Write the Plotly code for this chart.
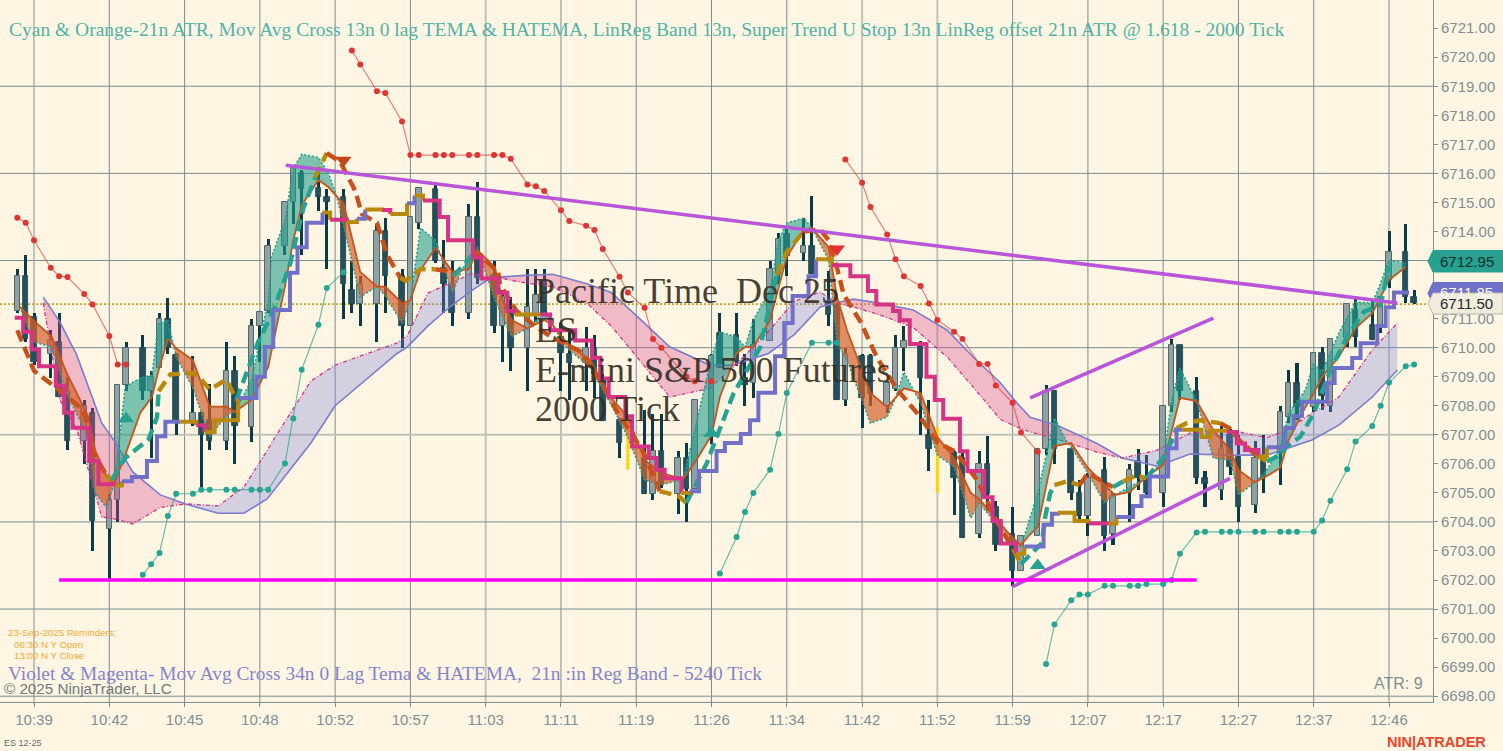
import plotly.graph_objects as go

BG = "#FEF6E3"
AXIS = "#7F8F96"
TIME_K = [2, 11, 20, 29, 38, 47, 56, 65, 74, 83, 92, 101, 110, 119, 128, 137, 146, 155, 164]
TIME_LABELS = ["10:39", "10:42", "10:45", "10:48", "10:52", "10:57", "11:03", "11:11", "11:19", "11:26",
               "11:34", "11:42", "11:52", "11:59", "12:07", "12:17", "12:27", "12:37", "12:46"]
LIGHT_K = [2, 56, 101, 110]
GRID_PRICES = [6698, 6701, 6704, 6707, 6710, 6713, 6716, 6719]

candle_k = [0, 1, 2, 4, 5, 6, 8, 9, 11, 12, 13, 15, 16, 17, 18, 19, 21, 22, 23, 25, 26, 28, 29, 30, 32, 33, 34, 36, 37, 39, 40, 41, 43, 44, 46, 47, 48, 50, 51, 52, 54, 55, 57, 58, 59, 61, 62, 63, 65, 66, 68, 69, 70, 72, 75, 76, 77, 79, 80, 81, 83, 84, 86, 87, 88, 90, 91, 92, 94, 95, 97, 98, 99, 101, 102, 104, 105, 106, 108, 109, 112, 113, 115, 116, 117, 119, 120, 122, 123, 124, 126, 127, 128, 130, 131, 133, 134, 135, 137, 138, 139, 141, 142, 144, 145, 146, 148, 149, 151, 152, 153, 155, 156, 157, 159, 160, 162, 163, 164, 166, 167]
candle_o = [6711.26, 6712.46, 6711.05, 6709.77, 6710.2, 6708.5, 6706.78, 6707.76, 6703.75, 6704.74, 6708.73, 6710, 6708.5, 6709.3, 6711, 6709.75, 6707.47, 6707.75, 6707.5, 6706.8, 6709.2, 6707.27, 6710.75, 6711.26, 6713.5, 6715, 6716, 6715.5, 6715.2, 6715.2, 6712, 6711.5, 6711.5, 6714, 6712.46, 6710.75, 6714.3, 6715.45, 6712.75, 6712.2, 6711.2, 6714.5, 6712.5, 6710.75, 6711.25, 6710, 6711.15, 6712.3, 6710.35, 6709.77, 6709.48, 6710, 6708.96, 6707.5, 6706.2, 6704.97, 6706.44, 6704.95, 6706.2, 6705.12, 6707, 6710.5, 6710.45, 6708.96, 6708.8, 6710.22, 6712.52, 6713.9, 6713.27, 6713.5, 6711.6, 6711.49, 6708.2, 6709.7, 6709.7, 6708, 6708.56, 6710, 6710.1, 6707, 6706.38, 6706.2, 6703.57, 6706, 6704.5, 6703.6, 6702.3, 6703.5, 6706.5, 6708.5, 6706.5, 6705, 6704.2, 6705.8, 6703.6, 6705, 6706.1, 6705.5, 6705, 6708, 6710.1, 6708.5, 6705.5, 6705.1, 6707, 6706.25, 6704.6, 6706.3, 6706.37, 6707.6, 6708.78, 6707.97, 6709.8, 6708, 6710.33, 6711.3, 6710.78, 6710.78, 6712.34, 6713.29, 6711.76]
candle_h = [6712.7, 6713.2, 6711.2, 6710.6, 6711.2, 6709, 6708.2, 6707.93, 6704.95, 6708.73, 6710.2, 6710.45, 6709.2, 6711.2, 6711.7, 6709.8, 6709.7, 6707.8, 6708.75, 6710.2, 6709.7, 6711, 6711.24, 6713.73, 6715, 6716.3, 6716.1, 6716, 6715.45, 6715.45, 6713, 6712.46, 6714.25, 6714.47, 6712.7, 6714.5, 6715.5, 6715.7, 6713.7, 6713, 6714.95, 6715.7, 6713, 6712, 6711.75, 6712.7, 6712.7, 6712.7, 6710.85, 6710.57, 6710.7, 6710.45, 6709.08, 6707.58, 6707.87, 6707.7, 6707.7, 6706.44, 6706.72, 6708.2, 6709.77, 6711.2, 6711.2, 6709.77, 6710.97, 6712.98, 6713.96, 6714.07, 6714.47, 6715.22, 6712.64, 6711.49, 6710, 6709.77, 6709.77, 6708.85, 6710.45, 6710.74, 6710.22, 6708.2, 6706.44, 6706.44, 6706.44, 6706.95, 6704.72, 6704.53, 6703.5, 6706.5, 6708.7, 6708.55, 6706.5, 6705.45, 6705.7, 6706.25, 6705, 6706, 6706.5, 6706.3, 6708, 6710.3, 6710.1, 6709, 6705.75, 6707.3, 6707.2, 6707, 6706.8, 6707, 6708, 6709.24, 6709.46, 6709.8, 6710.04, 6710.3, 6711.53, 6711.7, 6711.65, 6711.76, 6714, 6714.26, 6712]
candle_l = [6711.2, 6710.2, 6709.4, 6708.95, 6708.3, 6706.46, 6706, 6703, 6702, 6704, 6708.5, 6708.2, 6706.2, 6709.3, 6709.77, 6707, 6707.3, 6705.2, 6706.46, 6706.46, 6706, 6706.76, 6709.5, 6711.2, 6713.2, 6714.25, 6713.2, 6714.7, 6712.7, 6711, 6711.2, 6710.75, 6710.2, 6711.2, 6710, 6710.75, 6714.1, 6712.9, 6711.2, 6710.75, 6711, 6712.2, 6710.5, 6709.5, 6709.2, 6708.5, 6710.9, 6711.1, 6708.5, 6708.2, 6708.5, 6708.27, 6707.47, 6706.2, 6704.97, 6704.74, 6705.18, 6704.26, 6704, 6705.12, 6706.7, 6709.3, 6709.36, 6708, 6708.27, 6710.22, 6712.18, 6712.46, 6712.98, 6712.52, 6710.74, 6708.2, 6708, 6707.24, 6708, 6707.76, 6708.5, 6709.2, 6707, 6705.75, 6704.25, 6703.45, 6703.45, 6704.37, 6703, 6701.8, 6702.3, 6703.5, 6706.3, 6706, 6704.75, 6704.1, 6703.5, 6703, 6703.2, 6704, 6705.1, 6704.9, 6704.5, 6707.8, 6708.2, 6705.3, 6704.5, 6704.75, 6705.6, 6704, 6704.3, 6705, 6705.27, 6707.4, 6707.5, 6707.78, 6707.86, 6707.78, 6710.04, 6710.04, 6710.27, 6710.5, 6712.05, 6711.53, 6711.5]
candle_c = [6712.46, 6710.3, 6709.5, 6710.25, 6708.3, 6706.78, 6708, 6704.03, 6704.75, 6708.73, 6710, 6708.5, 6709, 6711, 6710, 6707.47, 6707.75, 6707, 6706.8, 6709.2, 6707.3, 6710.74, 6711.24, 6713.5, 6715, 6716.2, 6715.45, 6715.2, 6715, 6712.2, 6711.5, 6712.2, 6714, 6712.46, 6710.75, 6714.5, 6715.5, 6713, 6712.2, 6711.2, 6714.5, 6712.4, 6710.75, 6711.75, 6710, 6711.4, 6711.8, 6711.15, 6709.8, 6709.48, 6710, 6709.08, 6707.47, 6706.72, 6704.97, 6706.44, 6705.3, 6706.2, 6705.12, 6708.2, 6709.7, 6709.3, 6709.5, 6708.73, 6710.1, 6712.72, 6713.73, 6713.15, 6713.5, 6712.52, 6711.14, 6708.2, 6709.77, 6708.27, 6708.4, 6708.79, 6710, 6710.22, 6708.96, 6706.5, 6705.5, 6703.45, 6706, 6704.95, 6703.2, 6702.3, 6703.5, 6706.5, 6708.5, 6706.5, 6705, 6704.2, 6705.5, 6703.5, 6704.9, 6705.8, 6705.5, 6705, 6708, 6710.1, 6708.5, 6705.5, 6705.3, 6706.5, 6705.9, 6704.5, 6706.2, 6705.5, 6707.8, 6708.78, 6707.97, 6709.8, 6708.32, 6710.3, 6711.5, 6710.38, 6710.27, 6711.74, 6713.29, 6711.76, 6711.53]
yellow_k = [73, 110]
yellow_hi = [6707.6, 6707.25]
yellow_lo = [6705.8, 6705.0]

slow_k = [3.1, 5.1, 7.1, 10.1, 11.7, 13.8, 17.1, 20.3, 24, 27.1, 29.9, 31, 35.1, 38, 45.4, 46.6, 49.1, 51.7, 54.5, 56.2, 57.7, 60.1, 64, 68.1, 71, 74.4, 78, 82.8, 85.6, 89.8, 92.9, 96, 98, 100, 103.2, 107.1, 111.2, 114.3, 117.5, 119.5, 121.1, 124.3, 129.1, 132.1, 136.3, 140.2, 145, 149.4, 151.8, 154.8, 158, 162, 165]
slow_violet = [6711.74, 6710.88, 6709.75, 6707.4, 6706.75, 6705.72, 6704.93, 6704.6, 6704.3, 6704.3, 6704.8, 6705.2, 6706.72, 6708, 6709.8, 6710.02, 6710.75, 6711.4, 6712, 6712.33, 6712.43, 6712.48, 6712.53, 6712.2, 6711.9, 6711, 6710.03, 6709.4, 6709.4, 6709.8, 6710.45, 6711.4, 6711.55, 6711.67, 6711.53, 6711.3, 6710.6, 6709.67, 6708.8, 6708.1, 6707.6, 6707.33, 6706.7, 6706.2, 6705.92, 6706.34, 6706.3, 6706.3, 6706.54, 6706.82, 6707.33, 6708.3, 6709.23]
slow_magenta = [6711.53, 6708.2, 6707.2, 6704.17, 6704.1, 6703.93, 6704.5, 6704.62, 6704.55, 6705.2, 6706.47, 6707, 6708.85, 6709.4, 6710.16, 6710.4, 6711.88, 6712.22, 6712.57, 6712.43, 6712.4, 6712.26, 6712.09, 6711.53, 6710.75, 6709.57, 6708.3, 6708.6, 6709.33, 6710.55, 6711.6, 6711.91, 6711.53, 6711.4, 6711.12, 6710.7, 6709.67, 6708.64, 6707.54, 6707.27, 6707.1, 6706.85, 6706.4, 6706.2, 6706.47, 6707.06, 6707.16, 6706.9, 6707.16, 6707.75, 6708.3, 6709.92, 6710.85]

fast_k = [0.3, 1.9, 4.1, 5.9, 8.5, 9.3, 10.7, 11.6, 12.9, 14.7, 16.1, 16.9, 18, 19, 21, 23, 25, 26, 28, 30, 30.4, 32, 33, 34, 36, 37.2, 38.2, 39, 41, 43, 44, 46, 47, 48.2, 50, 50.6, 52, 53, 54, 55, 57.1, 58, 59.1, 61, 63, 64, 65.7, 68.5, 70.9, 73, 75, 77, 79.6, 81.2, 83, 84, 86, 87, 88, 90, 91, 92, 94, 95, 97, 98, 99.2, 102, 104, 105, 106, 108, 110, 112, 114, 115, 117, 118.7, 120, 121, 122, 124, 125.6, 126, 128, 130, 131.2, 133, 135, 137, 138, 139, 141, 143, 145, 146, 148, 149.4, 151, 152, 154, 155, 156, 158, 160, 162, 163, 164, 166]
fast_orange = [6711.41, 6710.95, 6710.38, 6709.13, 6707.62, 6706.47, 6705.55, 6705.34, 6706.3, 6707.75, 6708.31, 6709.23, 6710.3, 6709.98, 6709.57, 6707.97, 6707.97, 6707.79, 6708.2, 6709.34, 6709.9, 6712.1, 6713.7, 6714.9, 6715.77, 6715.53, 6715.2, 6714.98, 6712.61, 6712.1, 6712.1, 6711.53, 6711.64, 6712.67, 6713.43, 6713.2, 6712.61, 6712.67, 6712.7, 6713.36, 6712.77, 6711.64, 6710.95, 6710.67, 6710.95, 6710.78, 6710.16, 6709.57, 6708.3, 6707.61, 6706.13, 6705.68, 6705.47, 6706.13, 6706.99, 6708.3, 6709.81, 6710.02, 6710.02, 6710.95, 6712.05, 6713.12, 6714.05, 6714.12, 6713.46, 6711.74, 6710.6, 6708.44, 6707.95, 6708.26, 6708.6, 6708.44, 6706.92, 6706.2, 6705, 6704.79, 6704.13, 6703.55, 6703.2, 6703.55, 6703.83, 6706.61, 6706.7, 6706.72, 6705.86, 6705.27, 6704.93, 6705.03, 6705.55, 6705.96, 6707.16, 6708.27, 6708.16, 6707.16, 6706.47, 6705.79, 6705.37, 6705.58, 6705.86, 6706.82, 6707.95, 6708.44, 6708.99, 6709.68, 6710.67, 6711.19, 6711.74, 6712.33, 6712.78]
fast_teal = [6711.41, 6710.2, 6710.02, 6708.44, 6706.89, 6705, 6704.48, 6705.34, 6708.65, 6708.95, 6709.06, 6710.85, 6710.95, 6709.69, 6708.6, 6706.93, 6707.65, 6707.79, 6708.88, 6711.64, 6713.13, 6714.39, 6716.17, 6716.66, 6716.55, 6716, 6715.2, 6714.22, 6711.75, 6712.1, 6711.78, 6710.85, 6711.64, 6714.12, 6713.7, 6713.2, 6711.88, 6712.57, 6713.12, 6713.43, 6711.64, 6711.09, 6710.38, 6710.67, 6711.19, 6710.78, 6709.99, 6709.33, 6708.09, 6706.92, 6705.44, 6705.27, 6705.47, 6707.4, 6709.68, 6710.54, 6710.37, 6710.02, 6710.95, 6711.98, 6713.7, 6714.29, 6714.46, 6714.12, 6713.02, 6710.16, 6709.57, 6707.4, 6707.61, 6708.26, 6709.16, 6708.09, 6706.3, 6705.89, 6704.13, 6704.65, 6703.96, 6703.38, 6703.15, 6704.07, 6705, 6707.58, 6706.7, 6706.58, 6705.68, 6704.65, 6704.93, 6705.2, 6705.55, 6706.06, 6708.2, 6709.3, 6708.16, 6706.2, 6706.13, 6704.93, 6705.37, 6705.79, 6706.58, 6707.75, 6708.54, 6709.47, 6709.16, 6710.5, 6711.57, 6711.54, 6712.22, 6713.02, 6712.91]

step_k = [-0.3, 0.7, 1.7, 2.6, 4.6, 5.6, 6.6, 8.6, 9.7, 11.7, 12.5, 13.7, 15.5, 16.7, 17.7, 19.5, 21.4, 22.4, 23.6, 26.4, 28.6, 29.6, 30.6, 32.6, 33.5, 34.6, 36.5, 37.4, 39.4, 40.6, 41.6, 43.6, 44.6, 46.6, 47.5, 48.5, 50.5, 51.5, 54.5, 55.5, 57.5, 58.6, 59.5, 62.5, 63.7, 66.7, 68.7, 69.7, 70.7, 72.7, 73.5, 75.5, 76.4, 77.4, 79.4, 80.4, 81.5, 83.6, 84.6, 86.5, 87.6, 88.6, 90.6, 91.7, 92.7, 94.6, 95.5, 97.4, 99.6, 101.7, 102.7, 104.7, 105.5, 106.7, 108.7, 109.7, 110.7, 112.7, 113.6, 115.6, 116.6, 117.6, 119.4, 120.4, 122.7, 123.7, 124.4, 126.4, 128.1, 130.5, 131.4, 133.4, 134.4, 135.4, 137.6, 138.6, 139.3, 141.6, 142.6, 144.6, 145.8, 146.8, 148.4, 149.4, 151.6, 152.6, 153.6, 156.6, 157.5, 159.6, 160.6, 162.6, 163.6, 164.6, 166.4]
step_price = [6711.03, 6710.55, 6709.94, 6709.36, 6708.7, 6707.76, 6707.24, 6706.1, 6705.3, 6705.25, 6705.4, 6705.55, 6706.1, 6706.95, 6707.45, 6707.45, 6707.33, 6707.1, 6707.5, 6708.27, 6709, 6710.02, 6711.3, 6712.58, 6713.46, 6714.3, 6714.65, 6714.4, 6714.33, 6714.44, 6714.76, 6714.74, 6714.6, 6714.97, 6715.24, 6715.07, 6714.5, 6713.7, 6713.1, 6712.38, 6711.89, 6711.26, 6711.14, 6711.14, 6710.6, 6710.25, 6709.65, 6708.94, 6708.3, 6707.64, 6706.6, 6706.2, 6705.8, 6705.5, 6705, 6705.06, 6705.75, 6706.44, 6706.72, 6707.03, 6707.5, 6708.45, 6709.7, 6710.85, 6711.78, 6712.46, 6713.04, 6712.84, 6712.46, 6711.95, 6711.49, 6711.26, 6710.94, 6710.13, 6709, 6708.2, 6707.55, 6706.43, 6705.75, 6704.85, 6704.03, 6703.26, 6702.9, 6703.15, 6703.9, 6704.28, 6704.32, 6704.03, 6703.95, 6703.95, 6704.17, 6704.55, 6704.88, 6705.56, 6706.54, 6707.17, 6707.17, 6706.92, 6707.14, 6707.1, 6706.7, 6706.48, 6706.25, 6706.57, 6707.23, 6707.65, 6708.14, 6708.78, 6709.3, 6709.64, 6710.15, 6710.75, 6711.39, 6711.9, 6711.9]
step_change_k = [-0.3, 11.7, 12.5, 19.5, 21.4, 22.4, 26.4, 36.5, 37.4, 39.4, 40.6, 41.6, 43.6, 44.6, 46.6, 47.5, 48.5, 59.5, 62.5, 79.4, 80.4, 95.5, 97.4, 119.4, 120.4, 124.4, 128.1, 130.5, 131.4, 139.3, 144.6, 148.4, 149.4]
step_change_state = list("MGVGMGVGMGVGMGVGMGMGVGMGVGMGVGMGV")

dash_k = [0, 2, 4.3, 7.7, 8.5, 9, 10.7, 11.3, 12.9, 15.7, 16.7, 16.9, 18.3, 21, 22, 23, 25, 26.2, 28.8, 30.6, 32.6, 34.2, 35.6, 36.2, 37, 38.6, 40.4, 41.2, 43, 44.2, 45.8, 46.4, 48.2, 50, 51.3, 52.1, 53, 54.3, 55, 57.5, 57.7, 59.7, 62.1, 64, 67.3, 69.7, 71.7, 74.8, 76.8, 79, 80, 82.4, 85.6, 88.8, 90.8, 92, 94, 96, 97, 98, 98.8, 100.8, 102.8, 105.2, 108, 110, 112.1, 114.7, 117.1, 117.5, 119.1, 120, 122.5, 122.9, 123.5, 124, 125.5, 127, 128, 129.8, 131, 132.2, 133.8, 135, 137.4, 138.6, 139.8, 141.4, 143.8, 144.9, 146.1, 148.1, 149.4, 150.6, 151.8, 153.4, 155, 157, 159, 161, 163, 164]
dash_price = [6710.6, 6709.2, 6708.7, 6707.9, 6707.35, 6706.4, 6705.6, 6705.45, 6706.2, 6706.84, 6707.6, 6708.5, 6709.08, 6709.13, 6708.9, 6708.56, 6708.9, 6708.2, 6710.2, 6711.25, 6712.87, 6714.8, 6715.85, 6716.2, 6716.7, 6716.4, 6715.4, 6714.6, 6714.3, 6713.2, 6712.4, 6712.3, 6712.7, 6712.7, 6712.64, 6712.45, 6712.75, 6713.15, 6713.27, 6712.6, 6712.18, 6711.26, 6710.7, 6710.34, 6709.88, 6708.85, 6707.8, 6706.44, 6705.06, 6704.9, 6704.66, 6706, 6708.4, 6710, 6712.5, 6713.3, 6714, 6714.07, 6713.7, 6712.75, 6711.83, 6710.9, 6709.65, 6708.56, 6707.6, 6706.73, 6706.43, 6705.46, 6704.03, 6703.84, 6703.04, 6702.55, 6703.27, 6704.18, 6705, 6705.27, 6705.4, 6705.27, 6705.68, 6705.39, 6705.2, 6705.39, 6705.6, 6705.5, 6706.37, 6707.23, 6707.4, 6707.5, 6707.4, 6707.23, 6706.82, 6706.3, 6706.08, 6706.25, 6706.6, 6706.94, 6707.74, 6709.23, 6710.38, 6711.24, 6711.47, 6712.8]
dash_change_k = [0, 10.7, 11.3, 16.9, 26.2, 35.6, 37, 45.8, 50, 52.1, 54.3, 76.8, 80, 90.8, 94, 119.1, 120, 124, 127, 131, 132.2, 135, 138.6, 143.8, 148.1, 149.4]
dash_change_state = list("OGTGTGOGOTOGTGOGTGOTGTGOGT")

red1_k = [0, 1, 2, 4, 5, 6, 8, 9, 11, 12, 13]
red1_p = [6714.47, 6714.3, 6713.7, 6712.75, 6712.46, 6712.43, 6711.85, 6711.49, 6710.4, 6709.42, 6709.42]
red2_k = [40, 41, 43, 44, 46, 47, 48, 50, 51, 52, 54, 55, 57, 58, 59, 61, 62, 63, 65, 66, 68, 69, 70, 72, 73, 75, 76, 77, 80, 81, 83]
red2_p = [6720.23, 6719.75, 6718.83, 6718.77, 6717.79, 6716.63, 6716.63, 6716.63, 6716.63, 6716.63, 6716.63, 6716.63, 6716.63, 6716.63, 6716.5, 6715.62, 6715.56, 6715.39, 6714.73, 6714.36, 6714.2, 6714.05, 6713.4, 6712.44, 6711.9, 6711.37, 6710.3, 6710, 6709, 6708.84, 6708.84]
red3_k = [99, 101, 102, 104, 105, 106, 108, 109, 110, 112, 113, 115, 116, 117, 119, 120, 122]
red3_p = [6716.48, 6715.68, 6714.84, 6713.9, 6713.04, 6712.46, 6712.12, 6711.52, 6710.95, 6710.55, 6710.3, 6709.44, 6709.44, 6708.7, 6708.1, 6707.08, 6706.42]
teal1_k = [15, 16, 17, 18, 19, 21, 22, 23, 25, 26, 28, 29, 30, 32, 33, 34, 36, 37, 39]
teal1_p = [6702.18, 6702.54, 6702.93, 6704.2, 6704.97, 6704.97, 6705.11, 6705.11, 6705.11, 6705.11, 6705.11, 6705.11, 6705.11, 6706.01, 6707.56, 6709.24, 6710.79, 6712.05, 6712.6]
teal2_k = [84, 86, 87, 88, 90, 91, 92, 95, 97, 98]
teal2_p = [6702.22, 6703.48, 6704.34, 6705, 6705.8, 6707.03, 6708.44, 6710.17, 6710.17, 6710.17]
teal3_k = [123, 124, 126, 127, 128, 130, 131, 133, 134, 135, 137, 138, 139, 141, 142, 144, 145, 146, 148, 149, 151, 152, 153, 155, 156, 157, 159, 160, 162, 163, 164, 166, 167]
teal3_p = [6699.11, 6700.47, 6701.3, 6701.5, 6701.5, 6701.8, 6701.8, 6701.8, 6701.8, 6701.86, 6701.86, 6702, 6702.9, 6703.64, 6703.66, 6703.66, 6703.66, 6703.66, 6703.66, 6703.66, 6703.66, 6703.66, 6703.66, 6703.66, 6704.05, 6704.73, 6705.81, 6706.77, 6707.3, 6708, 6708.8, 6709.36, 6709.42]

down_arrow_k = [39, 98]
down_arrow_p = [6716.45, 6713.4]
down_arrow_c = ["#C8421A", "#E03030"]
up_arrow_k = [13, 83, 122]
up_arrow_p = [6707.55, 6707.05, 6702.5]

trend_k = [[32.1, 165], [121.1, 143], [119, 145]]
trend_p = [[6716.28, 6711.54], [6708.27, 6711.02], [6701.77, 6705.5]]
support_k = [5, 141]
support_p = [6702, 6702]
last_price = 6711.5

XW, YH = 1433, 702


def px(x):
    return x / XW


def py(y):
    return 1 - y / YH


def state_at(k, change_k, change_state):
    cur = change_state[0]
    for ck, st in zip(change_k, change_state):
        if k >= ck:
            cur = st
    return cur


def split_band(k, a, b):
    """Polygons of the band between a and b, split where the two lines cross or touch."""
    up_x, up_y, dn_x, dn_y = [], [], [], []
    runs = []
    cur = [(k[0], a[0], b[0])]
    for i in range(1, len(k)):
        d0, d1 = a[i - 1] - b[i - 1], a[i] - b[i]
        if d0 * d1 < 0:
            t = d0 / (d0 - d1)
            xc = k[i - 1] + t * (k[i] - k[i - 1])
            yc = a[i - 1] + t * (a[i] - a[i - 1])
            cur.append((xc, yc, yc))
            runs.append(cur)
            cur = [(xc, yc, yc)]
        cur.append((k[i], a[i], b[i]))
        if d1 == 0:
            runs.append(cur)
            cur = [(k[i], a[i], b[i])]
    runs.append(cur)
    for r in runs:
        if len(r) < 2:
            continue
        positive = sum(p[1] - p[2] for p in r) >= 0
        xs = [p[0] for p in r] + [p[0] for p in r[::-1]] + [None]
        ys = [p[1] for p in r] + [p[2] for p in r[::-1]] + [None]
        if positive:
            up_x += xs
            up_y += ys
        else:
            dn_x += xs
            dn_y += ys
    return up_x, up_y, dn_x, dn_y


def runs_of(states):
    start = 0
    for i in range(1, len(states) + 1):
        if i == len(states) or states[i] != states[start]:
            yield start, i, states[start]
            start = i


fig = go.Figure()

# candles
wick_len = [h - l for h, l in zip(candle_h, candle_l)]
fig.add_trace(go.Bar(x=candle_k, base=candle_l, y=wick_len, width=0.36, marker=dict(color="#0B3A47", line_width=0)))
dn = [i for i in range(len(candle_k)) if candle_c[i] < candle_o[i]]
up = [i for i in range(len(candle_k)) if candle_c[i] >= candle_o[i]]
fig.add_trace(go.Bar(x=[candle_k[i] for i in dn], base=[candle_c[i] for i in dn],
                     y=[candle_o[i] - candle_c[i] for i in dn], width=0.66,
                     marker=dict(color="#24505C", line=dict(color="#1C4551", width=0.8))))
fig.add_trace(go.Bar(x=[candle_k[i] for i in up], base=[candle_o[i] for i in up],
                     y=[candle_c[i] - candle_o[i] for i in up], width=0.66,
                     marker=dict(color="#8FA1A2", line=dict(color="#4E686C", width=1))))
for k, hi, lo in zip(yellow_k, yellow_hi, yellow_lo):
    fig.add_trace(go.Scatter(x=[k, k], y=[lo, hi], mode="lines", line=dict(color="#FFD400", width=3)))

# slow band
ux, uy, dx, dy = split_band(slow_k, slow_violet, slow_magenta)
fig.add_trace(go.Scatter(x=ux, y=uy, mode="lines", fill="toself", fillcolor="rgba(214,74,144,0.35)", line_width=0))
fig.add_trace(go.Scatter(x=dx, y=dy, mode="lines", fill="toself", fillcolor="rgba(128,132,218,0.33)", line_width=0))
fig.add_trace(go.Scatter(x=slow_k, y=slow_violet, mode="lines", line=dict(color="#7C7CCB", width=1.6)))
fig.add_trace(go.Scatter(x=slow_k, y=slow_magenta, mode="lines",
                         line=dict(color="#D6338A", width=1.3, dash="4px,2px,1px,2px")))

# fast band
ux, uy, dx, dy = split_band(fast_k, fast_orange, fast_teal)
fig.add_trace(go.Scatter(x=ux, y=uy, mode="lines", fill="toself", fillcolor="rgba(211,97,46,0.7)", line_width=0))
fig.add_trace(go.Scatter(x=dx, y=dy, mode="lines", fill="toself", fillcolor="rgba(30,156,138,0.58)", line_width=0))
fig.add_trace(go.Scatter(x=fast_k, y=fast_teal, mode="lines", line=dict(color="#24A090", width=1.6, dash="2px,2px")))
fig.add_trace(go.Scatter(x=fast_k, y=fast_orange, mode="lines", line=dict(color="#C9531C", width=1.8)))

# stop dots
for xs, ys in ((red1_k, red1_p), (red2_k, red2_p), (red3_k, red3_p)):
    fig.add_trace(go.Scatter(x=xs, y=ys, mode="lines+markers", line=dict(color="rgba(226,60,60,0.65)", width=1.2),
                             marker=dict(color="#E03535", size=6)))
for xs, ys in ((teal1_k, teal1_p), (teal2_k, teal2_p), (teal3_k, teal3_p)):
    fig.add_trace(go.Scatter(x=xs, y=ys, mode="lines+markers", line=dict(color="rgba(38,165,147,0.7)", width=1.2),
                             marker=dict(color="#26A593", size=6)))

# dashed cross line
DASH_COL = {"O": "#C9501A", "T": "#24A393", "G": "#B8890B"}
dash_state = [state_at(k, dash_change_k, dash_change_state) for k in dash_k]
for a, b, s in runs_of(dash_state):
    fig.add_trace(go.Scatter(x=dash_k[a:b + 1], y=dash_price[a:b + 1], mode="lines",
                             line=dict(color=DASH_COL[s], width=4.4, dash="12px,6px")))

# stepped cross line
STEP_COL = {"M": "#D63384", "V": "#7070C9", "G": "#B8890B"}
step_state = [state_at(k, step_change_k, step_change_state) for k in step_k]
for a, b, s in runs_of(step_state):
    fig.add_trace(go.Scatter(x=step_k[a:b + 1], y=step_price[a:b + 1], mode="lines",
                             line=dict(color=STEP_COL[s], width=4, shape="hv")))

# drawing tools
for xs, ys in zip(trend_k, trend_p):
    fig.add_trace(go.Scatter(x=xs, y=ys, mode="lines", line=dict(color="#B855D8", width=3.6)))
fig.add_trace(go.Scatter(x=support_k, y=support_p, mode="lines", line=dict(color="#FF00FF", width=3.6)))

# arrows
fig.add_trace(go.Scatter(x=down_arrow_k, y=down_arrow_p, mode="markers",
                         marker=dict(symbol="triangle-down", size=14, color=down_arrow_c)))
fig.add_trace(go.Scatter(x=up_arrow_k, y=up_arrow_p, mode="markers",
                         marker=dict(symbol="triangle-up", size=14, color="#26A090")))

shapes = []
for k in TIME_K:
    light = k in LIGHT_K
    shapes.append(dict(type="line", layer="below", xref="x", yref="paper", x0=k, x1=k, y0=0, y1=1,
                       line=dict(color="#BFC4BA" if light else "#7B8D94", width=2 if light else 1)))
for p in GRID_PRICES:
    light = p == 6707
    shapes.append(dict(type="line", layer="below", xref="paper", yref="y", x0=0, x1=1, y0=p, y1=p,
                       line=dict(color="#BFC4BA" if light else "#7B8D94", width=2 if light else 1)))
shapes.append(dict(type="line", layer="below", xref="paper", yref="y", x0=0, x1=1, y0=last_price, y1=last_price,
                   line=dict(color="#C9A227", width=1.6, dash="2px,2px")))


def flag(top, bottom, fill, edge):
    mid = (top + bottom) / 2
    pts = [(1428, mid), (1433, top), (1503, top), (1503, bottom), (1433, bottom)]
    path = "M" + " L".join(f"{px(x):.5f},{py(y):.5f}" for x, y in pts) + " Z"
    return dict(type="path", path=path, xref="paper", yref="paper", fillcolor=fill, line=dict(color=edge, width=1), layer="above")


shapes += [flag(250.5, 272, "#26A08F", "#26A08F"), flag(282.5, 304, "#7070C9", "#7070C9"), flag(293, 314, "#F1EBDB", "#B9BAAE")]

SERIF = "Liberation Serif"
SANS = "Liberation Sans"
BIG = "rgba(52,46,36,0.92)"


def note(x, y, text, size, color, family=SANS):
    return dict(xref="paper", yref="paper", x=px(x), y=py(y), text=text, showarrow=False, xanchor="left",
                yanchor="middle", font=dict(family=family, size=size, color=color))


annotations = [
    note(7, 29, "Cyan &amp; Orange-21n ATR, Mov Avg Cross 13n 0 lag TEMA &amp; HATEMA, LinReg Band 13n, Super Trend U Stop 13n LinReg offset 21n ATR @ 1.618 - 2000 Tick", 19.5, "#4FB3A8", SERIF),
    note(533, 291, "Pacific Time\u00a0\u00a0Dec 25", 36, BIG, SERIF),
    note(533, 330, "ES", 36, BIG, SERIF),
    note(533, 370, "E-mini S&amp;P 500 Futures", 36, BIG, SERIF),
    note(533, 409, "2000 Tick", 36, BIG, SERIF),
    note(6, 632, "23-Sep-2025 Reminders:", 9.7, "#F7A935"),
    note(12, 644, "06:30 N Y Open", 9.7, "#F7A935"),
    note(12, 655, "13:00 N Y Close", 9.7, "#F7A935"),
    note(6, 673, "Violet &amp; Magenta- Mov Avg Cross 34n 0 Lag Tema &amp; HATEMA,\u00a0\u00a021n :in Reg Band - 5240 Tick", 19.4, "#8484CC", SERIF),
    note(2, 688, "© 2025 NinjaTrader, LLC", 15.2, "#6F7A7E"),
    note(1372, 683, "ATR: 9", 16, "#7F8F96"),
    note(2, 743, "ES 12-25", 9, "#5F6B70"),
    note(1385, 742, "<b>NIN|ATRADER</b>", 14.5, "#E8452A"),
    note(1438, 261, "6712.95", 15, "#0B2E2A"),
    note(1438, 293, "6711.85", 15, "#FFFFFF"),
    note(1438, 304, "6711.50", 15, "#1E2A2E"),
]

fig.update_layout(
    width=1503, height=751, autosize=False, showlegend=False, barmode="overlay", bargap=0,
    margin=dict(l=0, r=70, t=0, b=49, pad=0),
    paper_bgcolor=BG, plot_bgcolor=BG,
    shapes=shapes, annotations=annotations,
    xaxis=dict(range=[-2.068, 169.26], tickmode="array", tickvals=TIME_K, ticktext=TIME_LABELS,
               showgrid=False, zeroline=False, showline=True, linecolor=AXIS, linewidth=1,
               ticks="outside", ticklen=4, tickcolor=AXIS, tickfont=dict(family=SANS, size=15, color=AXIS)),
    yaxis=dict(range=[6697.8, 6721.97], side="right", dtick=1, tick0=6698, tickformat=".2f",
               showgrid=False, zeroline=False, showline=True, linecolor=AXIS, linewidth=1,
               ticks="outside", ticklen=4, tickcolor=AXIS, tickfont=dict(family=SANS, size=15, color=AXIS)),
)

fig.write_html("out.html", config=dict(displayModeBar=False),
               post_script="document.body.style.margin='0';document.documentElement.style.overflow='hidden';")
